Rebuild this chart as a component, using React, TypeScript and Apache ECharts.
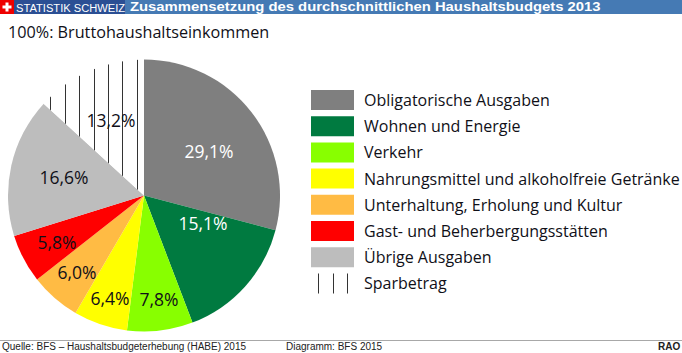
import React, { useEffect, useRef } from "react";
import * as echarts from "echarts";

const categories = ["Obligatorische Ausgaben", "Wohnen und Energie", "Verkehr", "Nahrungsmittel und alkoholfreie Getränke", "Unterhaltung, Erholung und Kultur", "Gast- und Beherbergungsstätten", "Übrige Ausgaben", "Sparbetrag"];
const values = [29.1, 15.1, 7.8, 6.4, 6.0, 5.8, 16.6, 13.2];
const colors = ["#7f7f7f", "#007a40", "#88ff00", "#ffff00", "#ffbb44", "#ff0000", "#bdbdbd"];
const labelColors = ["#ffffff", "#ffffff", "#101018", "#101018", "#101018", "#101018", "#101018", "#101018"];
const labelSpots = [[209, 151], [203, 223], [159, 299], [110, 298], [77, 272], [57, 242], [64, 177], [111, 120]];
const pageTitle = "Zusammensetzung des durchschnittlichen Haushaltsbudgets 2013";
const subTitle = "100%: Bruttohaushaltseinkommen";
const brand = "STATISTIK SCHWEIZ";
const source = "Quelle: BFS – Haushaltsbudgeterhebung (HABE) 2015";
const diagram = "Diagramm: BFS 2015";
const rao = "RAO";
const FONT = "'Open Sans', 'Noto Sans', sans-serif";
const INK = "#101018";

function hatchTile() {
  const c = document.createElement("canvas");
  c.width = 144;
  c.height = 8;
  const g = c.getContext("2d")!;
  g.fillStyle = "#ffffff";
  g.fillRect(0, 0, 144, 8);
  g.fillStyle = "#333333";
  for (let k = 0; k < 10; k++) g.fillRect(Math.round(7.1 + 14.4 * k), 0, 1, 8);
  return c;
}

export default function App() {
  const ref = useRef<HTMLDivElement>(null);
  useEffect(() => {
    const chart = echarts.init(ref.current!, undefined, { renderer: "svg" });
    const hatch = { image: hatchTile(), repeat: "repeat" };
    chart.setOption({
      animation: false,
      backgroundColor: "#ffffff",
      legend: {
        orient: "vertical", left: 311, top: 90, padding: 0, itemWidth: 43, itemHeight: 20, itemGap: 6.2,
        icon: "rect", selectedMode: false,
        textStyle: { fontFamily: FONT, fontSize: 16, color: INK, padding: [0, 0, 0, 5] },
        data: categories,
      },
      series: [{
        type: "pie", center: [144, 195.5], radius: [0, 136], startAngle: 90, clockwise: true,
        silent: true,
        label: { show: true, position: "inside", formatter: (p: any) => p.value.toFixed(1).replace(".", ",") + "%", fontFamily: FONT, fontSize: 17.5 },
        labelLine: { show: false },
        labelLayout: (p: any) => ({ x: labelSpots[p.dataIndex][0], y: labelSpots[p.dataIndex][1], align: "center", verticalAlign: "middle" }),
        data: categories.map((name, i) => ({
          name, value: values[i],
          itemStyle: { color: i === 7 ? hatch : colors[i] },
          label: { color: labelColors[i] },
        })),
      }],
      graphic: [
        { type: "rect", shape: { x: 0, y: 0, width: 682, height: 14 }, style: { fill: "#457ab4" } },
        { type: "rect", shape: { x: 14, y: 0, width: 111, height: 14 }, style: { fill: "#2b4f94" } },
        { type: "rect", shape: { x: 0, y: 0, width: 14, height: 14 }, style: { fill: "#ee0000" } },
        { type: "rect", shape: { x: 5.5, y: 2.5, width: 3, height: 9 }, style: { fill: "#ffffff" } },
        { type: "rect", shape: { x: 2.5, y: 5.5, width: 9, height: 3 }, style: { fill: "#ffffff" } },
        { type: "text", x: 16, y: 2, scaleX: 0.97, style: { text: brand, fill: "#ffffff", font: "11.5px 'Liberation Sans'" } },
        { type: "text", x: 130, y: 1, scaleX: 1.237, style: { text: pageTitle, fill: "#ffffff", font: "bold 12px 'Liberation Sans'" } },
        { type: "text", x: 8, y: 24, style: { text: subTitle, fill: INK, font: "16.2px " + FONT } },
        { type: "rect", shape: { x: 0, y: 340, width: 682, height: 1 }, style: { fill: "#a8a8a8" } },
        { type: "text", x: 2, y: 341, style: { text: source, fill: "#222222", font: "10px 'Liberation Sans'" } },
        { type: "text", x: 286, y: 341, style: { text: diagram, fill: "#222222", font: "10px 'Liberation Sans'" } },
        { type: "text", x: 658, y: 341, style: { text: rao, fill: "#222222", font: "bold 10px 'Liberation Sans'" } },
      ],
    });
    return () => chart.dispose();
  }, []);
  return <div ref={ref} style={{ width: 682, height: 353, position: "fixed", left: 0, top: 0 }} />;
}
